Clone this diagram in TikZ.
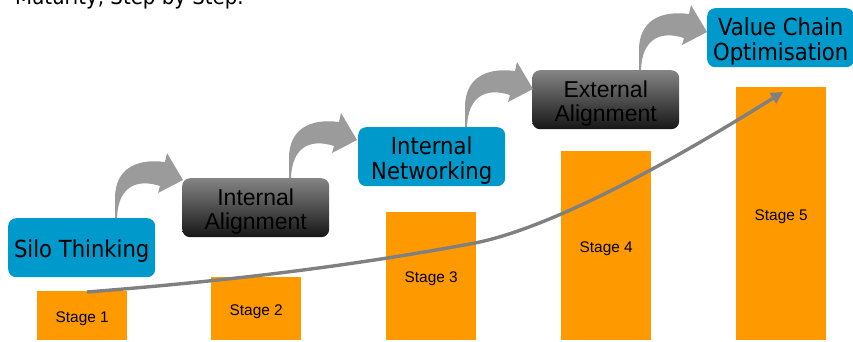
\documentclass[tikz,border=0pt]{standalone}
\usepackage{fontspec}
\setmainfont{Liberation Sans}
\newfontfamily\humanist[FakeStretch=0.9]{DejaVu Sans}
\usetikzlibrary{arrows.meta}
\definecolor{stageorange}{RGB}{255,153,0}
\definecolor{stepblue}{RGB}{0,153,204}
\definecolor{bendgray}{RGB}{155,155,155}
\definecolor{trendgray}{RGB}{128,128,128}
\definecolor{steptop}{RGB}{132,132,132}
\definecolor{stepmid}{RGB}{98,98,98}
\definecolor{stepbottom}{RGB}{22,22,22}
\begin{document}
\begin{tikzpicture}[x=1pt,y=-1pt,
  stagebar/.style={fill=stageorange, draw=none, minimum width=90pt, inner sep=0pt, anchor=south west},
  stagetext/.style={font=\fontsize{15.4}{17}\selectfont, text=black, inner sep=0pt, yshift=-3pt},
  stepbox/.style={rounded corners=8pt, minimum width=147pt, minimum height=59pt, inner sep=0pt,
    anchor=north west},
  bluestep/.style={stepbox, fill=stepblue},
  graystep/.style={stepbox, top color=steptop, middle color=stepmid, bottom color=stepbottom},
  steptext/.style={inner sep=0pt, align=center, text=black, yshift=-3.5pt},
  bluetext/.style={steptext, font=\humanist\fontsize{23.5}{25}\selectfont},
  graytext/.style={steptext, font=\fontsize{23}{24}\selectfont},
  trend/.style={draw=trendgray, line width=3.4pt, -{Triangle[length=12pt,width=12pt]}},
  bendarrow/.pic={
    \fill[bendgray] (0,0) -- (0,-20)
      .. controls (0,-48) and (20,-60) .. (50,-56)
      -- (52,-65) -- (68,-38) -- (43,-25) -- (45,-32)
      .. controls (20,-40) and (3,-30) .. (2,0) -- cycle;
  }
]
\path[use as bounding box] (0,0) rectangle (853,341);
\clip (0,0) rectangle (853,341);

% heading line, mostly above the page edge
\node[anchor=base west, inner sep=0pt, font=\humanist\fontsize{22}{24}\selectfont] (heading) at (15,4.5)
  {Maturity, Step by Step.};

% stage bars
\node[stagebar, minimum height=49pt]  (b1) at (37,340)  {};
\node[stagebar, minimum height=63pt]  (b2) at (211,340) {};
\node[stagebar, minimum height=128pt] (b3) at (386,340) {};
\node[stagebar, minimum height=189pt] (b4) at (561,340) {};
\node[stagebar, minimum height=253pt] (b5) at (736,340) {};
\node[stagetext] (l1) at (b1.center) {Stage 1};
\node[stagetext] (l2) at (b2.center) {Stage 2};
\node[stagetext] (l3) at (b3.center) {Stage 3};
\node[stagetext] (l4) at (b4.center) {Stage 4};
\node[stagetext] (l5) at (b5.center) {Stage 5};

% rising trend
\coordinate (t0) at (87,292);
\coordinate (tm) at (475,243);
\coordinate (t1) at (783,92);
\draw[trend] (t0) .. controls (200,283) and (330,270) .. (tm)
  .. controls (560,226) and (690,150) .. (t1);

% maturity steps
\node[bluestep] (s1) at (8,218)   {};
\node[graystep] (s2) at (182,178) {};
\node[bluestep] (s3) at (358,127) {};
\node[graystep] (s4) at (532,70)  {};
\node[bluestep] (s5) at (707,8)   {};
\node[bluetext] (s1t) at (s1.center) {Silo Thinking};
\node[graytext] (s2t) at (s2.center) {Internal\\Alignment};
\node[bluetext] (s3t) at (s3.center) {Internal\\Networking};
\node[graytext] (s4t) at (s4.center) {External\\Alignment};
\node[bluetext] (s5t) at (s5.center) {Value Chain\\Optimisation};

% bent arrows from one step to the next
\pic at ([xshift=107pt]s1.north west) {bendarrow};
\pic at ([xshift=107pt]s2.north west) {bendarrow};
\pic at ([xshift=107pt]s3.north west) {bendarrow};
\pic at ([xshift=107pt]s4.north west) {bendarrow};
\end{tikzpicture}
\end{document}
